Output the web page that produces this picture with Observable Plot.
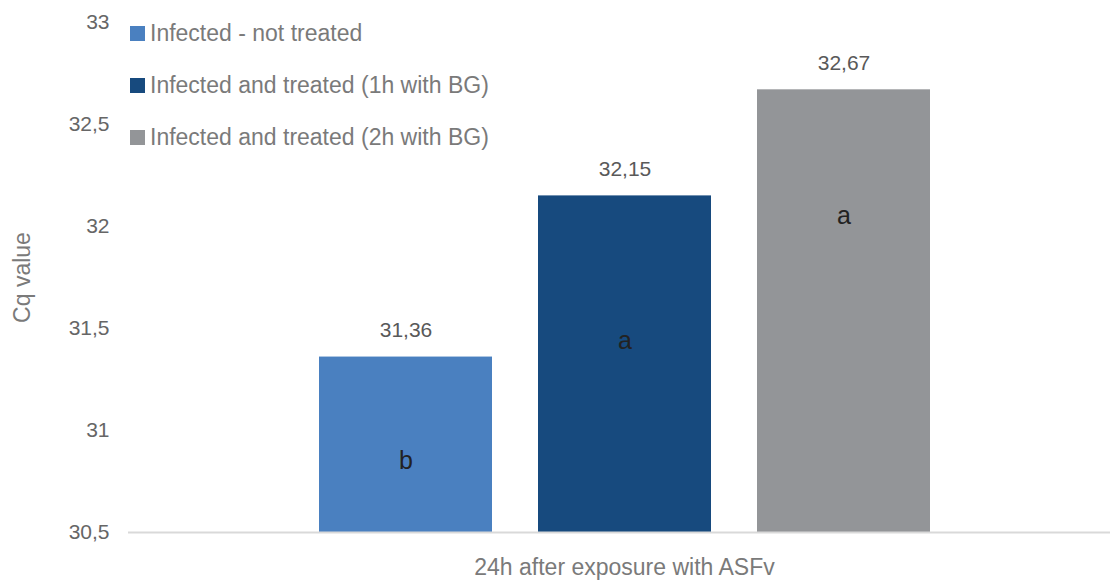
<!DOCTYPE html>
<html>
<head>
<meta charset="utf-8">
<script src="https://cdn.jsdelivr.net/npm/d3@7"></script>
<script src="https://cdn.jsdelivr.net/npm/@observablehq/plot@0.6"></script>
<style>
  html, body { margin: 0; padding: 0; background: #fff; }
  #wrap { position: relative; width: 1110px; height: 580px; font-family: "Liberation Sans Narrow", "Arial Narrow", "Liberation Sans", Arial, sans-serif; }
  #legend { position: absolute; left: 130px; top: 7px; }
  .item { display: flex; align-items: center; height: 52px; color: #7a7a7a; font-size: 23px; }
  .sw { width: 15px; height: 15px; margin-right: 5px; }
</style>
</head>
<body>
<div id="wrap"></div>
<script>
const series = ["Infected - not treated", "Infected and treated (1h with BG)", "Infected and treated (2h with BG)"];
const values = [31.36, 32.15, 32.67];
const letters = ["b", "a", "a"];
const letterPos = [30.85, 31.44, 32.05];
const colors = ["#4a80c0", "#174a7e", "#939598"];
const yTicks = [30.5, 31, 31.5, 32, 32.5, 33];
const xTitle = "24h after exposure with ASFv";
const yTitle = "Cq value";

const data = series.map((s, i) => ({series: s, value: values[i], letter: letters[i], lp: letterPos[i]}));
const fmt = v => String(v).replace(".", ",");
const yMin = yTicks[0];

const chart = Plot.plot({
  width: 1110,
  height: 580,
  marginTop: 22,
  marginBottom: 48,
  marginLeft: 128,
  marginRight: 0,
  style: {fontFamily: '"Liberation Sans Narrow", "Arial Narrow", "Liberation Sans", Arial, sans-serif', fontSize: "21px", color: "#666", background: "#fff"},
  x: {domain: series, paddingInner: 0.21, paddingOuter: 0.842, align: 0.514, axis: null},
  y: {domain: [yMin, yTicks[yTicks.length - 1]], ticks: yTicks, tickFormat: fmt, tickSize: 0, tickPadding: 19,
      label: null},
  color: {domain: series, range: colors},
  marks: [
    Plot.barY(data, {x: "series", y1: () => yMin, y2: "value", fill: "series"}),
    Plot.ruleY([yMin], {stroke: "#d9d9d9", strokeWidth: 2}),
    Plot.text(data, {x: "series", y: "value", text: d => fmt(d.value), dy: -27, fill: "#595959", fontSize: 21}),
    Plot.text(data, {x: "series", y: "lp", text: "letter", fill: "#222", fontSize: 25}),
    Plot.text([yTitle], {frameAnchor: "left", textAnchor: "middle", rotate: -90, dx: -106, fill: "#7a7a7a", fontSize: 23}),
    Plot.text([xTitle], {frameAnchor: "bottom", dy: 42, dx: 5, fill: "#7a7a7a", fontSize: 23})
  ]
});
document.getElementById("wrap").appendChild(chart);

const legend = document.createElement("div");
legend.id = "legend";
series.forEach((s, i) => {
  const it = document.createElement("div");
  it.className = "item";
  const sw = document.createElement("div");
  sw.className = "sw";
  sw.style.background = colors[i];
  const t = document.createElement("span");
  t.textContent = s;
  it.appendChild(sw);
  it.appendChild(t);
  legend.appendChild(it);
});
document.getElementById("wrap").appendChild(legend);
</script>
</body>
</html>
